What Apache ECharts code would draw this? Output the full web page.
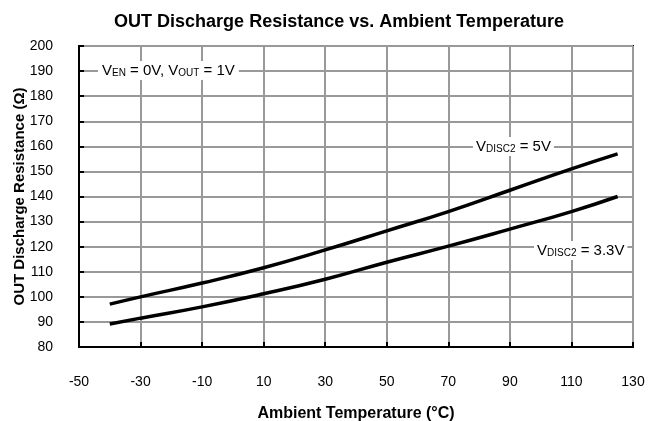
<!DOCTYPE html>
<html>
<head>
<meta charset="utf-8">
<script src="https://cdn.jsdelivr.net/npm/echarts@6/dist/echarts.min.js"></script>
<style>
  html, body { margin: 0; padding: 0; background: #fff; }
  #chart { width: 660px; height: 421px; }
</style>
</head>
<body>
<div id="chart"></div>
<script>
// temperature points (°C)
const temps = [-40, -30, -10, 10, 30, 50, 70, 90, 110, 125];
// resistance (Ω)
const disc5V = [97.1, 100, 105.5, 111.6, 118.7, 126.3, 134, 142.5, 151, 157];
const disc33V = [89.2, 91.5, 96, 101.2, 107, 113.8, 120.2, 127, 134, 140];

const xTicks = { min: -50, max: 130, interval: 20 };
const yTicks = { min: 80, max: 200, interval: 10 };

const pair = (xs, ys) => xs.map((x, i) => [x, ys[i]]);

const chart = echarts.init(document.getElementById('chart'));
const font = 'Liberation Sans, Arial, sans-serif';

const subRich = {
  v: { fontSize: 15, color: '#000', fontFamily: font },
  s: { fontSize: 10, color: '#000', fontFamily: font, verticalAlign: 'bottom', padding: [5, 0, 0, 0] }
};

const option = {
  backgroundColor: '#fff',
  animation: false,
  title: {
    text: 'OUT Discharge Resistance vs. Ambient Temperature',
    left: 334,
    top: 8,
    textAlign: 'center',
    textStyle: { fontFamily: font, fontSize: 18, fontWeight: 'bold', color: '#000' }
  },
  grid: {
    left: 79, right: 27, top: 46, bottom: 74,
    containLabel: false,
    outerBoundsMode: 'none',
    show: true, borderColor: '#000', borderWidth: 2
  },
  xAxis: {
    type: 'value',
    min: xTicks.min, max: xTicks.max, interval: xTicks.interval,
    name: 'Ambient Temperature (°C)',
    nameLocation: 'middle',
    nameGap: 59,
    nameMoveOverlap: false,
    nameTextStyle: { fontFamily: font, fontSize: 16, fontWeight: 'bold', color: '#000' },
    axisLine: { lineStyle: { color: '#000', width: 2 } },
    axisTick: { inside: true, length: 5, lineStyle: { color: '#000', width: 2 } },
    axisLabel: { margin: 28, fontFamily: font, fontSize: 14, color: '#000' },
    splitLine: { show: true, lineStyle: { color: '#999', width: 2 } }
  },
  yAxis: {
    type: 'value',
    min: yTicks.min, max: yTicks.max, interval: yTicks.interval,
    name: 'OUT Discharge Resistance (Ω)',
    nameLocation: 'middle',
    nameGap: 52,
    nameMoveOverlap: false,
    nameTextStyle: { fontFamily: font, fontSize: 15, fontWeight: 'bold', color: '#000' },
    axisLine: { onZero: false, lineStyle: { color: '#000', width: 2 } },
    axisTick: { inside: true, length: 5, lineStyle: { color: '#000', width: 2 } },
    axisLabel: { margin: 26, fontFamily: font, fontSize: 14, color: '#000' },
    splitLine: { show: true, lineStyle: { color: '#999', width: 2 } }
  },
  series: [
    {
      name: 'VDISC2 = 5V',
      type: 'line',
      data: pair(temps, disc5V),
      smooth: true,
      showSymbol: false,
      lineStyle: { color: '#000', width: 3.5 },
      z: 5
    },
    {
      name: 'VDISC2 = 3.3V',
      type: 'line',
      data: pair(temps, disc33V),
      smooth: true,
      showSymbol: false,
      lineStyle: { color: '#000', width: 3.5 },
      z: 5
    }
  ],
  graphic: [
    {
      type: 'text', left: 98, top: 61, z: 10,
      style: {
        text: '{v|V}{s|EN}{v| = 0V, V}{s|OUT}{v| = 1V}',
        rich: subRich, backgroundColor: '#fff', padding: [2, 4, 2, 4]
      }
    },
    {
      type: 'text', left: 473, top: 137, z: 10,
      style: {
        text: '{v|V}{s|DISC2}{v| = 5V}',
        rich: subRich, backgroundColor: '#fff', padding: [2, 3, 2, 3]
      }
    },
    {
      type: 'text', left: 534, top: 241, z: 10,
      style: {
        text: '{v|V}{s|DISC2}{v| = 3.3V}',
        rich: subRich, backgroundColor: '#fff', padding: [2, 3, 2, 3]
      }
    }
  ]
};

chart.setOption(option);
</script>
</body>
</html>
